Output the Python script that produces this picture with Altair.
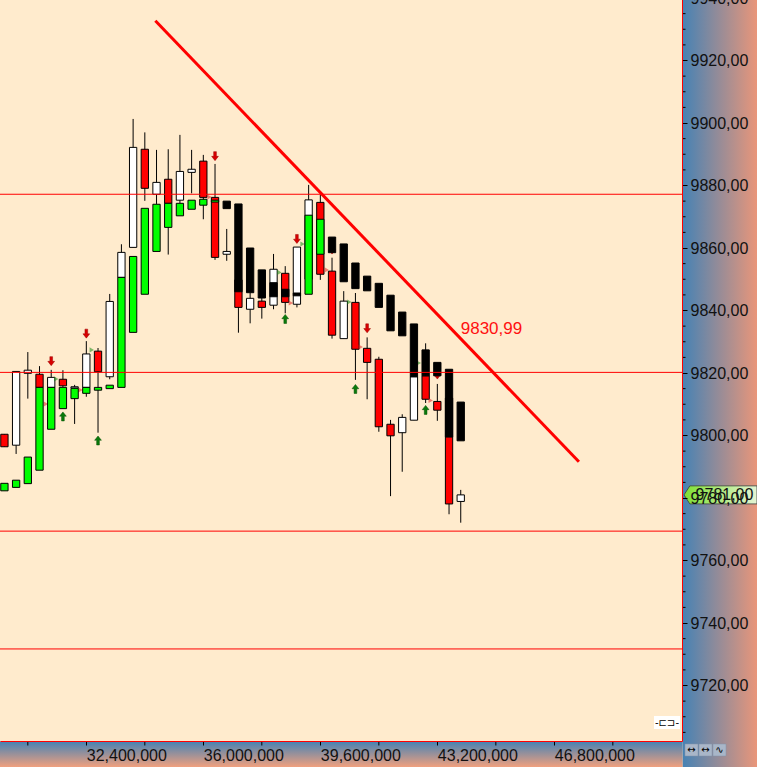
import altair as alt
import pandas as pd

# ---------------- data ----------------
# 6-minute bars
times = ["08:18", "08:24", "08:30", "08:36", "08:42", "08:48", "08:54", "09:00",
         "09:06", "09:12", "09:18", "09:24", "09:30", "09:36", "09:42", "09:48",
         "09:54", "10:00", "10:06", "10:12", "10:18", "10:24", "10:30", "10:36",
         "10:42", "10:48", "10:54", "11:00", "11:06", "11:12", "11:18", "11:24",
         "11:30", "11:36", "11:42", "11:48", "11:54", "12:00", "12:06", "12:12"]

opens = [9800.4, 9796.9, 9819.9, 9819.6, 9815.4, 9818.0, 9815.2, 9815.4, 9827.0, 9818.8,
         9850.6, 9860.2, 9891.6, 9877.2, 9882.0, 9875.3, 9884.2, 9887.8, 9876.2, 9858.0,
         9849.8, 9840.4, 9843.0, 9841.7, 9851.9, 9842.0, 9850.0, 9874.6, 9852.6, 9831.0,
         9842.6, 9827.9, 9824.4, 9803.6, 9800.9, 9804.9, 9819.1, 9810.9, 9812.0, 9778.9]
highs = [9800.4, 9820.5, 9826.7, 9822.2, 9821.0, 9820.9, 9816.2, 9830.2, 9828.0, 9845.3,
         9861.2, 9901.3, 9897.0, 9891.4, 9891.6, 9896.2, 9891.4, 9889.8, 9886.9, 9866.1,
         9849.8, 9845.7, 9844.0, 9858.1, 9854.2, 9860.3, 9880.2, 9877.0, 9856.9, 9846.2,
         9845.6, 9831.4, 9825.2, 9805.0, 9806.8, 9818.8, 9829.5, 9816.5, 9812.0, 9782.6]
lows = [9796.4, 9794.1, 9811.8, 9815.4, 9815.0, 9815.5, 9803.7, 9812.4, 9800.9, 9818.0,
        9850.6, 9860.2, 9875.1, 9874.1, 9857.9, 9874.4, 9877.5, 9869.2, 9856.2, 9855.9,
        9832.9, 9835.9, 9837.4, 9840.4, 9839.1, 9841.0, 9848.0, 9849.8, 9831.0, 9831.0,
        9817.8, 9811.6, 9801.2, 9780.6, 9788.4, 9804.9, 9810.4, 9804.7, 9774.8, 9772.1]
closes = [9796.4, 9820.5, 9820.9, 9815.4, 9818.6, 9815.9, 9815.6, 9826.1, 9820.4, 9842.9,
          9858.6, 9892.2, 9879.1, 9881.0, 9874.3, 9884.5, 9885.2, 9876.2, 9857.0, 9858.9,
          9841.0, 9843.9, 9841.0, 9853.2, 9842.6, 9860.3, 9875.4, 9851.6, 9832.1, 9843.0,
          9827.6, 9823.4, 9802.8, 9799.9, 9805.8, 9818.8, 9811.6, 9808.1, 9778.1, 9781.0]

# companion bars painted over the candles (green = rising, black = falling)
box_open = [9782.3, 9783.4, 9784.6, 9788.9, 9802.0, 9808.6, 9811.8, 9813.5, 9814.5, 9815.0,
            9815.4, 9833.0, 9845.2, 9858.9, 9866.6, 9870.3, 9872.4, 9873.7, 9874.7, 9875.0,
            9874.1, 9860.0, 9853.0, 9848.9, 9846.8, 9845.6, 9845.2, 9858.0, 9863.5, 9861.3,
            9855.2, 9851.0, 9848.7, 9844.9, 9839.5, 9835.7, 9827.4, 9823.4, 9821.2, 9810.7]
box_close = [9784.7, 9785.7, 9793.1, 9815.4, 9815.4, 9815.4, 9815.1, 9815.4, 9815.4, 9816.1,
             9850.6, 9857.3, 9872.7, 9874.0, 9874.3, 9874.3, 9875.3, 9875.6, 9875.3, 9872.6,
             9846.0, 9845.7, 9844.0, 9844.4, 9844.4, 9844.7, 9870.5, 9869.2, 9858.5, 9849.2,
             9847.0, 9846.3, 9841.0, 9833.5, 9831.9, 9818.8, 9819.1, 9819.1, 9799.5, 9798.3]

# signal arrows
sell_times = ["08:42", "09:00", "10:06", "10:48", "11:06", "11:24", "12:00"]
sell_levels = [9823.8, 9832.6, 9889.4, 9862.9, 9859.5, 9834.3, 9819.5]
buy_times = ["08:48", "09:06", "10:42", "11:18", "11:54"]
buy_levels = [9806.1, 9798.4, 9837.3, 9814.9, 9808.2]

# small pattern markers (minutes after midnight)
mark_up_min = [524.6, 542.8, 639.0, 650.9, 674.9, 710.5]
mark_up_lvl = [9818.1, 9827.4, 9852.2, 9861.3, 9842.7, 9823.2]
mark_dn_min = [519.3, 537.0, 603.2, 644.9, 663.3, 680.7, 716.6]
mark_dn_lvl = [9810.1, 9814.6, 9876.3, 9842.4, 9853.0, 9828.3, 9811.2]

# horizontal levels
levels = [9877.2, 9820.2, 9769.4, 9731.7]

# trend line endpoints (minutes, price) and its value at the last bar
trend_min = [575.4, 792.6]
trend_val = [9932.7, 9791.6]
trend_label_min = 732
trend_label_val = 9830.99

last_price = 9781.0

y_ticks = [9720, 9740, 9760, 9780, 9800, 9820, 9840, 9860, 9880, 9900, 9920, 9940]
hour_ticks = ["09:00", "10:00", "11:00", "12:00", "13:00"]
half_hour_ticks = ["08:30", "09:30", "10:30", "11:30", "12:30", "13:30"]

MS = 60000  # milliseconds per minute; x positions are UTC timestamps of the day


def to_min(s):
    h, m = s.split(":")
    return int(h) * 60 + int(m)


# ---------------- tables ----------------
candles = pd.DataFrame({
    "t": [to_min(s) * MS for s in times],
    "open": opens, "high": highs, "low": lows, "close": closes,
    "bo": box_open, "bc": box_close,
})
candles["body"] = ["#FFFFFF" if c >= o else "#FF0000" for o, c in zip(opens, closes)]
candles["box"] = ["#00FF00" if c >= o else "#000000" for o, c in zip(box_open, box_close)]

sells = pd.DataFrame({"t": [to_min(s) * MS for s in sell_times], "v": sell_levels})
buys = pd.DataFrame({"t": [to_min(s) * MS for s in buy_times], "v": buy_levels})
markers = pd.DataFrame({
    "t": [m * MS for m in mark_up_min + mark_dn_min],
    "v": mark_up_lvl + mark_dn_lvl,
    "c": ["#138A13"] * len(mark_up_min) + ["#E02020"] * len(mark_dn_min),
})
lines_df = pd.DataFrame({"v": levels})
trend_df = pd.DataFrame({"t": [m * MS for m in trend_min], "v": trend_val})
trend_lbl = pd.DataFrame({"t": [trend_label_min * MS], "v": [trend_label_val]})
last_df = pd.DataFrame({"v": [last_price]})
minor_df = pd.DataFrame({"v": [v for v in range(9705, 9940, 5) if v % 20 != 0]})
half_df = pd.DataFrame({"t": [to_min(s) * MS for s in half_hour_ticks]})
one = pd.DataFrame({"a": [0]})

# ---------------- scales / axes ----------------
FONT = "Liberation Sans"
xs = alt.Scale(domain=[498.3 * MS, 842.9 * MS], nice=False, zero=False)
ys = alt.Scale(domain=[9702.24, 9940.32], range=[741, -3], nice=False, zero=False)

x_axis = alt.Axis(
    values=[to_min(s) * MS for s in hour_ticks], format="%H:%M", formatType="utc",
    orient="bottom", title=None, grid=False,
    tickSize=4, tickColor="black", domainColor="#FF0000",
    labelAlign="left", labelPadding=2, labelFontSize=16, labelFont=FONT,
    labelColor="#111111", labelFlush=False, labelOverlap=False, labelBound=False,
    zindex=1,
)
y_axis = alt.Axis(
    values=y_ticks, orient="right", title=None, grid=False,
    labelExpr="replace(format(datum.value, '.2f'), '.', ',')",
    tickSize=5, tickColor="black", domainColor="#FF0000",
    labelPadding=3, labelFontSize=16, labelFont=FONT, labelColor="#111111",
    labelFlush=False, labelOverlap=False, labelBound=False, zindex=1,
)

# every layer carries the same axis definition so the shared axes merge cleanly
X = lambda f="t": alt.X(f"{f}:Q", scale=xs, axis=x_axis)
Y = lambda f="v": alt.Y(f"{f}:Q", scale=ys, axis=y_axis)

# ---------------- side panels ----------------
grad_h = alt.Gradient(gradient="linear",
                      stops=[alt.GradientStop(color="#4682B4", offset=0),
                             alt.GradientStop(color="#E9967A", offset=1)],
                      x1=0, x2=1, y1=0, y2=0)
grad_v = alt.Gradient(gradient="linear",
                      stops=[alt.GradientStop(color="#4682B4", offset=0),
                             alt.GradientStop(color="#F0A07E", offset=1)],
                      x1=0, x2=0, y1=0, y2=1)

panel_right = alt.Chart(one).mark_rect(fill=grad_h).encode(
    x=alt.value(682.5), x2=alt.value(757), y=alt.value(0), y2=alt.value(767))
panel_bottom = alt.Chart(one).mark_rect(fill=grad_v).encode(
    x=alt.value(0), x2=alt.value(682.5), y=alt.value(741.5), y2=alt.value(767))

minor_ticks = alt.Chart(minor_df).mark_rule(color="black", strokeWidth=1).encode(
    y=Y(), x=alt.value(682.5), x2=alt.value(685.5))
half_ticks = alt.Chart(half_df).mark_rule(color="black", strokeWidth=1).encode(
    x=X(), y=alt.value(741.5), y2=alt.value(745.5))

# ---------------- candles ----------------
wicks = alt.Chart(candles).mark_rule(color="black", strokeWidth=1).encode(
    x=X(), y=Y("low"), y2="high:Q")
bodies = alt.Chart(candles).mark_bar(size=7.3, stroke="black", strokeWidth=1).encode(
    x=X(), y=Y("open"), y2="close:Q", fill=alt.Fill("body:N", scale=None))

DOWN = "M-0.3,-1L0.3,-1L0.3,0.05L0.75,0.05L0,1L-0.75,0.05L-0.3,0.05Z"
UP = "M-0.3,1L0.3,1L0.3,-0.05L0.75,-0.05L0,-1L-0.75,-0.05L-0.3,-0.05Z"
sell_arrows = alt.Chart(sells).mark_point(
    shape=DOWN, size=81, filled=True, fill="#D80000", stroke="#9A0000",
    strokeWidth=0.5, opacity=1).encode(x=X(), y=Y())
buy_arrows = alt.Chart(buys).mark_point(
    shape=UP, size=81, filled=True, fill="#0A7A0A", stroke="#045004",
    strokeWidth=0.5, opacity=1).encode(x=X(), y=Y())

pattern_marks = alt.Chart(markers).mark_point(
    shape="triangle-right", size=26, filled=True, opacity=0.55).encode(
    x=X(), y=Y(), fill=alt.Fill("c:N", scale=None))

boxes = alt.Chart(candles).mark_bar(size=7.3, stroke="black", strokeWidth=1).encode(
    x=X(), y=Y("bo"), y2="bc:Q", fill=alt.Fill("box:N", scale=None))

# ---------------- lines and labels ----------------
hlines = alt.Chart(lines_df).mark_rule(color="#FF0000", strokeWidth=1).encode(y=Y())

trend = alt.Chart(trend_df).mark_line(color="#FF0000", strokeWidth=3).encode(x=X(), y=Y())

trend_text = alt.Chart(trend_lbl).transform_calculate(
    lbl="replace(format(datum.v, '.2f'), '.', ',')"
).mark_text(align="left", baseline="middle", dy=-10, fontSize=17, font=FONT,
            color="#FF1010").encode(x=X(), y=Y(), text="lbl:N")

TAG = "M-1,0L-0.84,-0.247L1,-0.247L1,0.247L-0.84,0.247Z"
grad_tag = alt.Gradient(gradient="linear",
                        stops=[alt.GradientStop(color="#7EE032", offset=0),
                               alt.GradientStop(color="#E4F4D4", offset=1)],
                        x1=0, x2=1, y1=0, y2=0)
tag = alt.Chart(last_df).mark_point(
    shape=TAG, size=5329, filled=True, fill=grad_tag, stroke="#3A3A3A",
    strokeWidth=0.8, opacity=1).encode(x=alt.value(720.5), y=Y())
tag_text = alt.Chart(last_df).transform_calculate(
    lbl="replace(format(datum.v, '.2f'), '.', ',')"
).mark_text(align="center", baseline="middle", fontSize=16, font=FONT,
            color="#111111").encode(x=alt.value(724.5), y=Y(), text="lbl:N")

# small toolbar glyphs
icon_box = alt.Chart(one).mark_rect(fill="white").encode(
    x=alt.value(654), x2=alt.value(680), y=alt.value(716), y2=alt.value(729))
icon_txt = alt.Chart(one).mark_text(text="-⊏⊐-", fontSize=10, font="DejaVu Sans",
                                    color="black").encode(x=alt.value(667), y=alt.value(722.5))
btn_x0 = [685, 699, 713]
btn_glyphs = ["↔", "↔", "∿"]
buttons = [
    alt.Chart(one).mark_rect(fill="#A9B6C8", stroke="#8090A8", strokeWidth=0.5).encode(
        x=alt.value(x0), x2=alt.value(x0 + 13), y=alt.value(744), y2=alt.value(756))
    for x0 in btn_x0
] + [
    alt.Chart(one).mark_text(text=g, fontSize=10, font="DejaVu Sans", color="black").encode(
        x=alt.value(x0 + 6.5), y=alt.value(750))
    for x0, g in zip(btn_x0, btn_glyphs)
]

chart = alt.layer(
    panel_right, panel_bottom, minor_ticks, half_ticks,
    wicks, bodies, sell_arrows, buy_arrows, pattern_marks, boxes,
    hlines, trend, trend_text, tag, tag_text,
    icon_box, icon_txt, *buttons,
).properties(
    width=682, height=741,
    autosize=alt.AutoSizeParams(type="none"),
    padding={"left": 0, "top": 0, "right": 75, "bottom": 26},
    background="#FFEBCD",
).configure_view(strokeWidth=0)

chart.save("out.html", embed_options={"renderer": "svg", "actions": False})
